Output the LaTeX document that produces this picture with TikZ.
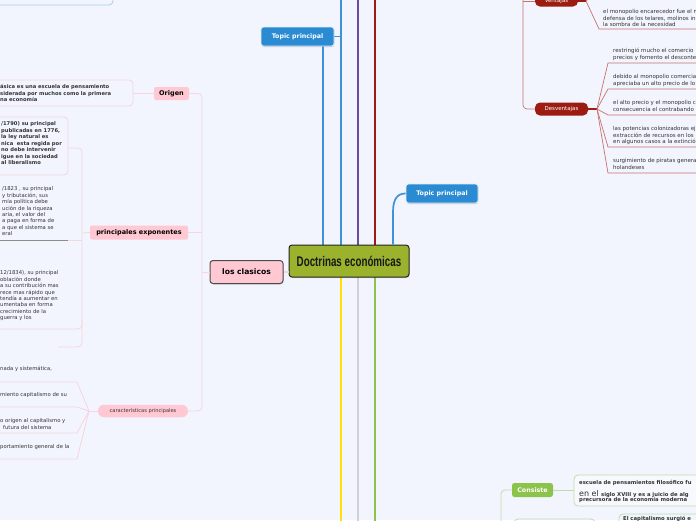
\documentclass[tikz,border=0pt]{standalone}
\usepackage{fontspec}
\setmainfont{DejaVu Sans}
\newfontfamily\titlefont[FakeStretch=0.7]{Liberation Sans}
\usetikzlibrary{shadows}
\definecolor{bg}{HTML}{F2F5FE}
\definecolor{pinkf}{HTML}{FFC8D2}
\definecolor{pinkl}{HTML}{F7D4DE}
\definecolor{bluef}{HTML}{2B8BD2}
\definecolor{bluel}{HTML}{3D92DA}
\definecolor{bluebox}{HTML}{A9CDEE}
\definecolor{purp}{HTML}{6F4C9B}
\definecolor{dred}{HTML}{9C1C12}
\definecolor{redl}{HTML}{C8726C}
\definecolor{yel}{HTML}{FFE000}
\definecolor{grayl}{HTML}{CFCFD4}
\definecolor{grn}{HTML}{8CC34B}
\definecolor{grnl}{HTML}{BFDDA8}
\definecolor{olive}{HTML}{9AB22C}
\definecolor{txt}{HTML}{333333}
\tikzset{
  small/.style={font=\fontsize{5.3}{6.5}\selectfont, text=txt, inner sep=0pt, anchor=north west, align=left},
  smallb/.style={small, font=\fontsize{5.2}{6.5}\selectfont\bfseries},
  smallr/.style={small, font=\fontsize{5.5}{6.7}\selectfont},
  mainline/.style={line width=1.7pt},
  pinkc/.style={draw=pinkl, line width=0.8pt},
  redc/.style={draw=redl, line width=0.7pt},
  grnc/.style={draw=grnl, line width=0.8pt},
  pinknode/.style={fill=pinkf, rounded corners=2pt, inner sep=0pt, text=black, font=\fontsize{6.5}{7}\selectfont\bfseries},
  bluenode/.style={fill=bluef, draw=white!85!bluef, line width=0.8pt, rounded corners=2.5pt, inner sep=0pt, text=white,
     font=\fontsize{6.3}{7}\selectfont\bfseries, drop shadow={shadow xshift=0.4pt, shadow yshift=-1pt, opacity=0.35}},
  rednode/.style={fill=dred, rounded corners=5pt, inner sep=0pt, text=white, font=\fontsize{5.5}{6}\selectfont},
  textbox/.style={rounded corners=4pt, line width=0.8pt},
}
\begin{document}
\begin{tikzpicture}[x=1pt,y=-1pt]
\useasboundingbox (0,0) rectangle (696,520);
\fill[bg] (0,0) rectangle (696,520);
\clip (0,0) rectangle (696,520);

% ---------- coordinates for main branch columns ----------
\coordinate (tA) at (323,0);
\coordinate (tB) at (341,-5);
\coordinate (tP) at (358,-5);
\coordinate (tR) at (375,-5);
\coordinate (tC) at (393,0);
\coordinate (bY) at (341,525);
\coordinate (bG) at (358,525);
\coordinate (bN) at (375,525);

% ---------- main lines (behind nodes) ----------
\draw[mainline, bluel] (tA |- 0,250) -- (tA |- 0,40);
\draw[mainline, bluel] (tB |- 0,250) -- (tB);
\draw[bluel, line width=1pt] (tB |- 0,36.5) -- (300,36.5);
\draw[mainline, purp] (tP |- 0,250) -- (tP);
\draw[mainline, dred] (tR |- 0,250) -- (tR);
\draw[mainline, yel] (bY |- 0,270) -- (bY);
\draw[mainline, grayl] (bG |- 0,270) -- (bG);
\draw[mainline, grn] (bN |- 0,270) -- (bN);

% ---------- central node ----------
\node[fill=olive, draw=black!85, line width=1pt, rounded corners=3pt, minimum width=120pt, minimum height=32pt, inner sep=0pt,
      drop shadow={shadow xshift=0.5pt, shadow yshift=-1pt, opacity=0.3},
      font=\titlefont\fontsize{14}{15}\selectfont\bfseries, text=black!90] (center) at (349,261) {Doctrinas económicas};

% ---------- topic principal nodes ----------
\node[bluenode, minimum width=73pt, minimum height=19pt] (tp1) at (297.5,36.5) {Topic principal};
\node[bluenode, minimum width=72pt, minimum height=19pt] (tp2) at (442,193.5) {Topic principal};
\draw[mainline, bluel] (center.north -| tC) -- (393,212) .. controls (393,198) and (398,193.5) .. (tp2.west);

% ---------- top-left box ----------
\draw[bluebox, textbox] (-10,-20) rectangle (113,5);

% ---------- los clasicos ----------
\node[pinknode, draw=black!70, line width=1pt, rounded corners=3pt, minimum width=73pt, minimum height=23pt,
      font=\fontsize{7.6}{8}\selectfont\bfseries,
      drop shadow={shadow xshift=0.5pt, shadow yshift=-1pt, opacity=0.3}] (lc) at (246.5,272) {los clasicos};
\draw[pinkc, line width=1.5pt] (lc.east) -- (center.west |- lc.east);

\node[pinknode, minimum width=35pt, minimum height=13pt] (origen) at (171.5,93.5) {Origen};
\node[pinknode, minimum width=98pt, minimum height=14pt] (pe) at (139,232.5) {principales exponentes};
\node[pinknode, rounded corners=6pt, minimum width=90pt, minimum height=12.5pt,
      font=\fontsize{5.1}{6}\selectfont, text=txt] (car) at (143,411) {características principales};

\coordinate (lx) at (202,272);
\draw[pinkc, rounded corners=4pt] (origen.east) -- (origen.east -| lx) -- (car.east -| lx) -- (car.east);
\draw[pinkc] (lc.west) -- (lx);
\draw[pinkc] (pe.east) -- (pe.east -| lx);

% ---------- Origen child ----------
\draw[pinkl, textbox] (-10,80) rectangle (133,106);
\coordinate (obr) at (133,93.5);
\draw[pinkc] (origen.west) -- (obr);
\node[smallb] (otext) at (0,84.5) {ásica es una escuela de pensamiento\\siderada por muchos como la primera\\na economía};

% ---------- principales exponentes children ----------
\draw[pinkl, textbox] (-10,117) rectangle (68,175);
\node[smallb] (e1) at (1,121.5) {/1790) su principal\\publicadas en 1776,\\la ley natural es\\nica\ \ esta regida por\\no debe intervenir\\igue en la sociedad\\al liberalismo};
\node[small, font=\fontsize{5.3}{6.43}\selectfont] (e2) at (2,186.5) {/1823 , su principal\\y tributación, sus\\mía política debe\\ución de la riqueza\\aria, el valor del\\a paga en forma de\\a que el sistema se\\eral};
\node[small, font=\fontsize{5.3}{6.43}\selectfont] (e3) at (0,270.5) {12/1834), su principal\\oblación donde\\a su contribución mas\\rece mas rápido que\\tendía a aumentar en\\umentaba en forma\\crecimiento de la\\guerra y los};
\coordinate (ex) at (82,233);
\draw[pinkc, rounded corners=4pt] (68,148) -- (82,148) -- (82,347) -- (58,347);
\draw[pinkc] (pe.west) -- (ex);
\draw[black!45, line width=0.8pt] (0,240) -- (68,240);
\draw[pinkc] (68,240) -- (82,240);
\draw[pinkc, rounded corners=4pt] (0,329) -- (82,329) -- (82,320);

% ---------- caracteristicas children ----------
\coordinate (cf) at (89,411);
\draw[pinkc] (car.west) -- (cf);
\draw[pinkc] (0,382) -- (77,382) -- (cf);
\draw[pinkc] (0,407) -- (77,407) -- (cf);
\draw[pinkc] (0,433) -- (77,433) -- (cf);
\draw[pinkc] (0,459) -- (77,459) -- (cf);
\node[small] (c1) at (0,366.5) {nada y sistemática,};
\node[small] (c2) at (0,392.5) {miento capitalismo de su};
\node[small, font=\fontsize{5.3}{7}\selectfont] (c3) at (0,418.5) {o origen al capitalismo y\\\hspace*{3pt}futura del sistema};
\node[small] (c4) at (0,444.5) {portamiento general de la};

% ---------- right: Ventajas / Desventajas ----------
\node[rednode, minimum width=43pt, minimum height=11pt] (ven) at (556.5,1) {Ventajas};
\node[rednode, minimum width=53pt, minimum height=13pt] (des) at (561.5,109) {Desventajas};
\coordinate (rv) at (523,-10);
\draw[redc, rounded corners=4pt] (rv) -- (des.west -| rv) -- (des.west);
\draw[redc] (ven.west -| rv) -- (ven.west);
\coordinate (vf) at (586,1);
\draw[dred, line width=1.2pt] (ven.east) -- (vf);
\draw[redc] (vf) -- (599,29) -- (700,29);
\draw[redc] (vf) -- (597,-10);
\node[smallr] (v1) at (603,9) {el monopolio encarecedor fue el m\\defensa de los telares, molinos in\\la sombra de la necesidad};

\coordinate (df) at (597,109);
\draw[dred, line width=1.2pt] (des.east) -- (df);
\draw[redc] (df) -- (608,63) -- (700,63);
\draw[redc] (df) -- (608,89) -- (700,89);
\draw[redc] (df) -- (608,115) -- (700,115);
\draw[redc] (df) -- (608,147) -- (700,147);
\draw[redc] (df) -- (608,173) -- (700,173);
\node[smallr] (d1) at (613,48) {restringió mucho el comercio\\precios y fomento el desconte};
\node[smallr] (d2) at (613,74) {debido al monopolio comercia\\apreciaba un alto precio de lo};
\node[smallr] (d3) at (613,100) {el alto precio y el monopolio c\\consecuencia el contrabando};
\node[smallr] (d4) at (613,126) {las potencias colonizadoras ej\\extracción de recursos en los\\en algunos casos a la extinció};
\node[smallr] (d5) at (613,158) {surgimiento de piratas genera\\holandeses};

% ---------- bottom right: Consiste ----------
\node[fill=grn, rounded corners=2.5pt, minimum width=41pt, minimum height=14pt, inner sep=0pt, text=white,
      font=\fontsize{6.3}{7}\selectfont\bfseries] (cons) at (532.5,490) {Consiste};
\coordinate (gx) at (501,530);
\draw[grnc, rounded corners=4pt] (gx) -- (cons.west -| gx) -- (cons.west);
\draw[grnl, textbox, fill=bg!60!white] (574,475) rectangle (720,506);
\draw[grnc] (cons.east) -- (574,490);
\node[smallb, font=\fontsize{5.3}{6.5}\selectfont\bfseries] (k1) at (579,480.5) {escuela de pensamientos filosófico fu};
\node[small, anchor=base west, font=\fontsize{8}{9}\selectfont] (k2a) at (579,496) {en el};
\node[smallb, anchor=base west, font=\fontsize{5.3}{6.5}\selectfont\bfseries] (k2b) at (k2a.base east) {\ siglo XVIII y es a juicio de alg};
\node[smallb, font=\fontsize{5.3}{6.5}\selectfont\bfseries] (k3) at (579,497.5) {precursora de la economía moderna};
\draw[grnl, textbox] (514,519) rectangle (595,540);
\draw[grnl, textbox] (619,514) rectangle (720,540);
\node[smallb, font=\fontsize{5.3}{6.5}\selectfont\bfseries] (k4) at (623,516.5) {El capitalismo surgió e};
\end{tikzpicture}
\end{document}
